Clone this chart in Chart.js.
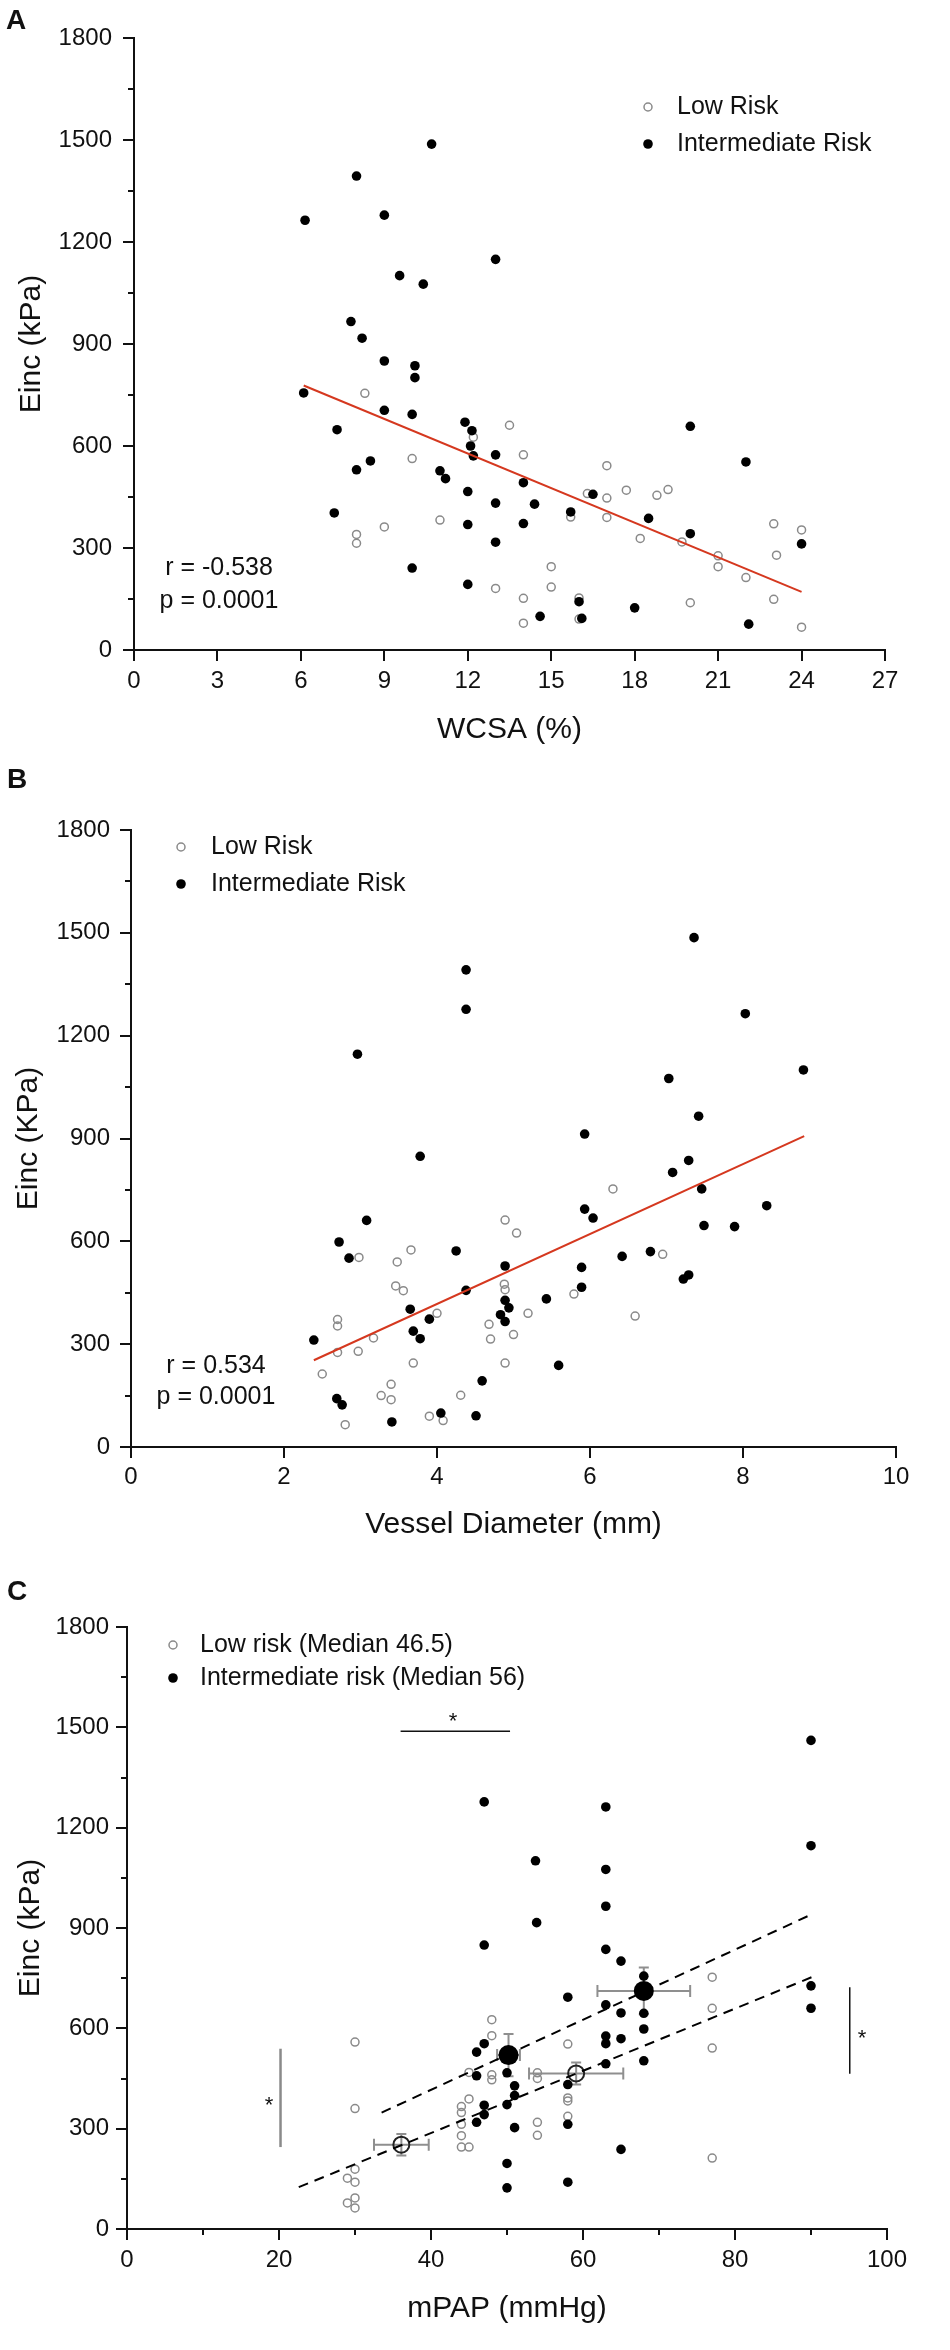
<!DOCTYPE html>
<html><head><meta charset="utf-8">
<script src="https://cdn.jsdelivr.net/npm/chart.js@4.4.1/dist/chart.umd.min.js"></script>
<style>
html,body{margin:0;padding:0;background:#fff;}
#wrap{position:relative;width:950px;height:2350px;overflow:hidden;}
canvas{position:absolute;left:0;}
.pl{position:absolute;font:bold 28px "Liberation Sans",Arial,sans-serif;line-height:28px;color:#111;}
</style></head><body>
<div id="wrap">
<canvas id="cA" width="950" height="780" style="top:0"></canvas>
<canvas id="cB" width="950" height="780" style="top:780px"></canvas>
<canvas id="cC" width="950" height="790" style="top:1560px"></canvas>
<div class="pl" style="left:6px;top:6px">A</div>
<div class="pl" style="left:7px;top:765px">B</div>
<div class="pl" style="left:7px;top:1577px">C</div>
</div>
<script>
// ---------------- DATA ----------------
// Panel A: WCSA (%) vs Einc (kPa)
const A_lowX = [8.3,8.0,8.0,9.0,10.0,11.0,12.2,13.5,14.0,13.0,14.0,14.0,15.0,15.0,16.0,16.0,15.7,16.3,17.0,17.0,17.0,17.7,18.2,18.8,19.2,19.7,21.0,21.0,20.0,22.0,23.0,23.1,23.0,24.0,24.0];
const A_lowY = [755,340,314,362,563,382,626,661,574,181,152,79,245,185,153,91,391,460,542,447,390,470,328,455,472,318,277,245,139,213,371,279,149,353,67];
const A_intX = [6.1,6.15,8.0,9.0,10.7,9.55,10.4,13.0,7.8,8.2,9.0,10.1,10.1,9.0,10.0,7.3,8.0,8.5,7.2,10.0,11.0,11.2,11.9,12.15,12.1,12.2,12.0,12.0,12.0,13.0,13.0,13.0,14.0,14.0,14.4,14.6,15.7,16.5,16.0,16.1,18.0,18.5,20.0,20.0,22.0,22.1,24.0];
const A_intY = [756,1264,1394,1279,1488,1101,1076,1149,966,917,850,836,801,705,693,648,530,556,403,241,527,504,670,645,600,571,466,369,193,574,432,317,492,372,429,99,406,458,142,93,124,387,658,342,553,76,312];
const A_fitX = [6.1, 24.0];
const A_fitY = [778, 171];
const A_xTicks = [0,3,6,9,12,15,18,21,24,27];
const A_stats = ["r = -0.538", "p = 0.0001"];

// Panel B: Vessel diameter (mm) vs Einc (KPa)
const B_lowX = [2.5,2.7,2.7,2.7,2.8,2.97,2.98,3.17,3.27,3.4,3.4,3.46,3.48,3.56,3.66,3.69,3.9,4.0,4.08,4.31,4.68,4.7,4.88,4.89,4.89,4.89,5.0,5.04,5.19,5.79,6.3,6.59,6.95];
const B_lowY = [213,372,353,276,65,279,553,318,150,183,138,470,540,456,575,245,90,390,77,151,358,315,475,459,662,245,328,624,390,446,753,382,562];
const B_intX = [2.39,2.72,2.85,2.96,3.08,2.69,2.76,3.41,3.65,3.69,3.78,3.9,3.78,4.05,4.25,4.38,4.38,4.38,4.51,4.59,4.89,4.89,4.83,4.89,4.94,5.43,5.59,5.89,5.89,5.93,5.93,6.04,6.42,6.79,7.03,7.08,7.22,7.29,7.29,7.36,7.42,7.46,7.49,7.89,8.03,8.31,8.79];
const B_intY = [312,598,551,1146,661,141,123,73,402,338,316,373,848,99,572,1392,1277,457,91,193,528,428,386,366,406,432,238,524,466,913,694,668,556,570,1075,801,490,502,836,1486,965,753,646,643,1264,704,1100];
const B_fitX = [2.39, 8.8];
const B_fitY = [253, 907];
const B_xTicks = [0,2,4,6,8,10];
const B_stats = ["r = 0.534", "p = 0.0001"];

// Panel C: mPAP (mmHg) vs Einc (kPa)
const C_lowX = [30,30,30,29,30,30,29,30,48,48,45,48,48,45,44,44,44,44,44,45,54,54,54,54,58,58,58,58,77,77,77,77];
const C_lowY = [559,360,179,152,140,93,78,63,626,578,468,461,446,389,366,348,313,279,245,245,467,450,319,280,553,392,383,337,753,660,541,212];
const C_intX = [47,53.75,53.9,47,63,63,63,63,65,90,90,90,90,58,63,65,68,68,68,68,63,63,65,63,65,58,58,58,47,46,46,46,47,47,50,51,51,50,51,50,50];
const C_intY = [1277,1101,916,849,1262,1075,965,836,801,1461,1146,727,660,693,670,646,756,645,598,503,577,554,569,494,238,432,313,140,554,529,458,319,370,342,467,428,399,372,303,196,123];
const C_lowMeanX = [36.1, 59.1];
const C_lowMeanY = [252, 465];
const C_lowErrX  = [3.6, 6.2];
const C_lowErrY  = [32, 33];
const C_intMeanX = [50.2, 68.0];
const C_intMeanY = [520, 712];
const C_intErrX  = [1.5, 6.1];
const C_intErrY  = [63, 70];
const C_lowFitX = [22.6, 90.1];
const C_lowFitY = [125, 753];
const C_intFitX = [33.5, 90.1];
const C_intFitY = [348, 941];
const C_xTicks = [0,20,40,60,80,100];
const C_xMinor = [10,30,50,70,90];
// significance brackets: [x0, x1, y0, y1] in data units, and star positions
const C_sigTop   = [36.0, 50.4, 1488, 1488];
const C_sigLeft  = [20.2, 20.2, 245, 539];
const C_sigRight = [95.1, 95.1, 464, 723];
const C_starX = [42.9, 18.7, 96.7];
const C_starY = [1536, 388, 587];

const Y_ticks = [0,300,600,900,1200,1500,1800];
const Y_minor = [150,450,750,1050,1350,1650];

const LEG_AB = ["Low Risk", "Intermediate Risk"];
const LEG_C  = ["Low risk (Median 46.5)", "Intermediate risk (Median 56)"];

// ---------------- HELPERS ----------------
const FONT = '"Liberation Sans", Arial, Helvetica, sans-serif';
const INK = '#111111';
const GRAY = '#8a8a8a';
const RED = '#d5381f';

function pts(xs, ys){ return xs.map((x,i)=>({x:x, y:ys[i]})); }

function axis(o){
  return {
    type:'linear', min:o.min, max:o.max,
    afterFit: s => { if (s.isHorizontal()) s.height = o.size; else s.width = o.size; },
    afterBuildTicks: s => { s.ticks = o.ticks.map(v=>({value:v})); },
    ticks: {color:INK, font:{family:FONT,size:24}, padding:o.tickPad, maxRotation:0, minRotation:0, autoSkip:false,
            callback: v => String(v)},
    grid: {drawOnChartArea:false, drawTicks:true, tickLength:11, color:INK, lineWidth:2},
    border: {display:true, color:INK, width:2},
    title: {display:true, text:o.title, color:INK, font:{family:FONT,size:30}, padding:o.titlePad}
  };
}

function lowDS(data, label){
  return {label, data, showLine:false, pointRadius:4, pointHoverRadius:4, pointBorderWidth:1.5,
          pointBorderColor:GRAY, pointBackgroundColor:'rgba(0,0,0,0)', order:3};
}
function intDS(data, label){
  return {label, data, showLine:false, pointRadius:4.8, pointHoverRadius:4.8, pointBorderWidth:0,
          pointBorderColor:'#000', pointBackgroundColor:'#000', order:2};
}
function lineDS(data, color, dash){
  return {label:'fit', data, showLine:true, borderColor:color, borderWidth:2, borderDash:dash||[],
          pointRadius:0, pointHoverRadius:0, fill:false, order:0, tension:0};
}

function decor(spec){
  return {
    id:'decor',
    beforeDatasetsDraw(chart){
      if (!spec.errors) return;
      const {ctx, scales:{x,y}} = chart;
      ctx.save();
      ctx.strokeStyle = '#8f8f8f'; ctx.lineWidth = 2;
      for (const e of spec.errors){
        for (let i=0;i<e.mx.length;i++){
          const px=x.getPixelForValue(e.mx[i]), py=y.getPixelForValue(e.my[i]);
          const x0=x.getPixelForValue(e.mx[i]-e.ex[i]), x1=x.getPixelForValue(e.mx[i]+e.ex[i]);
          const y0=y.getPixelForValue(e.my[i]-e.ey[i]), y1=y.getPixelForValue(e.my[i]+e.ey[i]);
          ctx.beginPath();
          ctx.moveTo(x0,py); ctx.lineTo(x1,py);
          ctx.moveTo(x0,py-6); ctx.lineTo(x0,py+6);
          ctx.moveTo(x1,py-6); ctx.lineTo(x1,py+6);
          ctx.moveTo(px,y0); ctx.lineTo(px,y1);
          ctx.moveTo(px-5,y0); ctx.lineTo(px+5,y0);
          ctx.moveTo(px-5,y1); ctx.lineTo(px+5,y1);
          ctx.stroke();
        }
      }
      ctx.restore();
    },
    afterDraw(chart){
      const {ctx, chartArea:a, scales:{x,y}} = chart;
      ctx.save();
      // minor ticks
      ctx.strokeStyle = INK; ctx.lineWidth = 2;
      ctx.beginPath();
      for (const v of Y_minor){ const py=Math.round(y.getPixelForValue(v)); ctx.moveTo(a.left-6,py); ctx.lineTo(a.left,py); }
      if (spec.xMinor) for (const v of spec.xMinor){ const px=Math.round(x.getPixelForValue(v)); ctx.moveTo(px,a.bottom); ctx.lineTo(px,a.bottom+6); }
      ctx.stroke();
      // significance marks
      if (spec.sig){
        for (const s of spec.sig){
          ctx.strokeStyle = s.color; ctx.lineWidth = s.width;
          ctx.beginPath();
          ctx.moveTo(x.getPixelForValue(s.b[0]), y.getPixelForValue(s.b[2]));
          ctx.lineTo(x.getPixelForValue(s.b[1]), y.getPixelForValue(s.b[3]));
          ctx.stroke();
        }
        ctx.fillStyle = INK; ctx.font = '22px '+FONT; ctx.textAlign='center'; ctx.textBaseline='alphabetic';
        for (let i=0;i<spec.starX.length;i++){
          ctx.fillText('*', x.getPixelForValue(spec.starX[i]), y.getPixelForValue(spec.starY[i]) + 12.5);
        }
      }
      // legend
      const L = spec.legend;
      ctx.font = '25px '+FONT; ctx.textBaseline='middle'; ctx.textAlign='left'; ctx.fillStyle=INK;
      const mx=a.left+L.mx, tx=a.left+L.tx, y1=a.top+L.y1, y2=a.top+L.y2;
      ctx.beginPath(); ctx.arc(mx,y1,4,0,Math.PI*2); ctx.strokeStyle=GRAY; ctx.lineWidth=1.5; ctx.stroke();
      ctx.beginPath(); ctx.arc(mx,y2,4.8,0,Math.PI*2); ctx.fillStyle='#000'; ctx.fill();
      ctx.fillStyle=INK;
      ctx.fillText(L.text[0], tx, y1);
      ctx.fillText(L.text[1], tx, y2);
      // statistics note
      if (spec.note){
        ctx.textAlign='center';
        ctx.fillText(spec.note.text[0], a.left+spec.note.cx, a.top+spec.note.y1);
        ctx.fillText(spec.note.text[1], a.left+spec.note.cx, a.top+spec.note.y2);
      }
      ctx.restore();
    }
  };
}

function makeChart(id, o){
  return new Chart(document.getElementById(id), {
    type:'scatter',
    data:{datasets:o.datasets},
    options:{
      responsive:false, animation:false, events:[], devicePixelRatio:1,
      layout:{padding:o.padding},
      plugins:{legend:{display:false}, tooltip:{enabled:false}},
      scales:{x:axis(o.x), y:axis(o.y)}
    },
    plugins:[decor(o.decor)]
  });
}

// ---------------- PANEL A ----------------
makeChart('cA', {
  datasets:[ lineDS(pts(A_fitX,A_fitY), RED), intDS(pts(A_intX,A_intY),'Intermediate Risk'), lowDS(pts(A_lowX,A_lowY),'Low Risk') ],
  padding:{left:0, top:38, right:65, bottom:0},
  x:{min:0,max:27,ticks:A_xTicks,size:130,tickPad:6,title:'WCSA (%)',titlePad:{top:0,bottom:32}},
  y:{min:0,max:1800,ticks:Y_ticks,size:134,tickPad:11,title:'Einc (kPa)',titlePad:{top:14,bottom:0}},
  decor:{legend:{mx:514,tx:543,y1:69,y2:106,text:LEG_AB}, note:{text:A_stats,cx:85,y1:530,y2:563}}
});

// ---------------- PANEL B ----------------
makeChart('cB', {
  datasets:[ lineDS(pts(B_fitX,B_fitY), RED), intDS(pts(B_intX,B_intY),'Intermediate Risk'), lowDS(pts(B_lowX,B_lowY),'Low Risk') ],
  padding:{left:0, top:50, right:54, bottom:0},
  x:{min:0,max:10,ticks:B_xTicks,size:113,tickPad:5,title:'Vessel Diameter (mm)',titlePad:{top:0,bottom:17}},
  y:{min:0,max:1800,ticks:Y_ticks,size:131,tickPad:10,title:'Einc (KPa)',titlePad:{top:11,bottom:0}},
  decor:{legend:{mx:50,tx:80,y1:17,y2:54,text:LEG_AB}, note:{text:B_stats,cx:85,y1:536,y2:567}}
});

// ---------------- PANEL C ----------------
const lowMeanDS = {label:'Low mean', data:pts(C_lowMeanX,C_lowMeanY), showLine:false, pointRadius:8, pointHoverRadius:8,
  pointBorderWidth:2, pointBorderColor:'#222', pointBackgroundColor:'rgba(0,0,0,0)', order:1};
const intMeanDS = {label:'Int mean', data:pts(C_intMeanX,C_intMeanY), showLine:false, pointRadius:10, pointHoverRadius:10,
  pointBorderWidth:0, pointBorderColor:'#000', pointBackgroundColor:'#000', order:1};
makeChart('cC', {
  datasets:[ lineDS(pts(C_intFitX,C_intFitY), '#000', [10,7]), lineDS(pts(C_lowFitX,C_lowFitY), '#000', [10,7]),
             intMeanDS, lowMeanDS,
             intDS(pts(C_intX,C_intY),'Intermediate risk'), lowDS(pts(C_lowX,C_lowY),'Low risk') ],
  padding:{left:0, top:67, right:63, bottom:0},
  x:{min:0,max:100,ticks:C_xTicks,size:121,tickPad:6,title:'mPAP (mmHg)',titlePad:{top:0,bottom:23}},
  y:{min:0,max:1800,ticks:Y_ticks,size:127,tickPad:7,title:'Einc (kPa)',titlePad:{top:13,bottom:0}},
  decor:{
    xMinor:C_xMinor,
    legend:{mx:46,tx:73,y1:18,y2:51,text:LEG_C},
    errors:[{mx:C_lowMeanX,my:C_lowMeanY,ex:C_lowErrX,ey:C_lowErrY},{mx:C_intMeanX,my:C_intMeanY,ex:C_intErrX,ey:C_intErrY}],
    sig:[{b:C_sigTop,color:'#111',width:1.5},{b:C_sigLeft,color:'#8a8a8a',width:2.5},{b:C_sigRight,color:'#111',width:1.5}],
    starX:C_starX, starY:C_starY
  }
});
</script>
</body></html>
